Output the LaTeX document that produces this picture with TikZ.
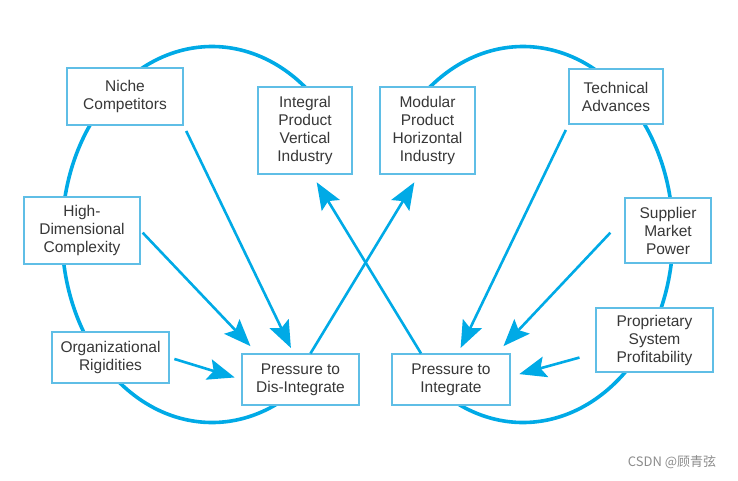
\documentclass[tikz,border=0pt]{standalone}
\usepackage{fontspec}
\setmainfont{Liberation Sans}
\newfontfamily\cjkfont{Noto Sans CJK SC}
\usepackage{tikz}
\usetikzlibrary{arrows.meta, positioning, calc}
\usepackage{xcolor}
\definecolor{loopblue}{RGB}{0, 170, 230}
\definecolor{boxblue}{RGB}{95, 190, 230}
\definecolor{labeltext}{RGB}{55, 55, 55}

\begin{document}
\begin{tikzpicture}[
    x=1pt, y=-1pt,
    factor/.style={draw=boxblue, line width=1.2pt, fill=white, align=center,
                   inner sep=0pt, text=labeltext,
                   font=\fontsize{15.5}{18}\selectfont},
    loop/.style={draw=loopblue, line width=3.6pt},
    arrow/.style={-{Stealth[length=27pt, width=21pt, inset=5pt]},
                  draw=loopblue, fill=loopblue, line width=2.6pt},
  ]
    \useasboundingbox (0,0) rectangle (738,480);

    % Two loops (open on the inside, ends hidden under the boxes)
    \coordinate (leftc) at (212,234.5);
    \coordinate (rightc) at (523,234.5);
    \draw[loop] ($(leftc)+(45:150pt and 188pt)$)
      arc[start angle=45, end angle=300, x radius=150pt, y radius=188pt];
    \draw[loop] ($(rightc)+(135:150pt and 188pt)$)
      arc[start angle=135, end angle=-120, x radius=150pt, y radius=188pt];

    % Left loop: forces toward dis-integration
    \node[factor, minimum width=116pt, minimum height=57pt] (niche) at (125,96.5)
      {Niche\\Competitors};
    \node[factor, minimum width=116pt, minimum height=67pt] (highdim) at (82,230.5)
      {High-\\Dimensional\\Complexity};
    \node[factor, minimum width=117pt, minimum height=51pt] (rigid) at (110.5,357.5)
      {Organizational\\Rigidities};
    \node[factor, minimum width=117pt, minimum height=51pt] (disint) at (300.5,379.5)
      {Pressure to\\Dis-Integrate};

    % Right loop: forces toward integration
    \node[factor, minimum width=94pt, minimum height=55pt] (tech) at (616,96.5)
      {Technical\\Advances};
    \node[factor, minimum width=86pt, minimum height=65pt] (supplier) at (668,230.5)
      {Supplier\\Market\\Power};
    \node[factor, minimum width=117pt, minimum height=64pt] (propr) at (654.5,340)
      {Proprietary\\System\\Profitability};
    \node[factor, minimum width=118pt, minimum height=51pt] (integ) at (451,379.5)
      {Pressure to\\Integrate};

    % Industry structures
    \node[factor, minimum width=94pt, minimum height=87pt] (integral) at (305,130.5)
      {Integral\\Product\\Vertical\\Industry};
    \node[factor, minimum width=95pt, minimum height=87pt] (modular) at (427.5,130.5)
      {Modular\\Product\\Horizontal\\Industry};

    % Arrows into dis-integration
    \draw[arrow, shorten <=6pt, shorten >=6pt] (niche.south east) -- ($(disint.north)+(-7,0)$);
    \draw[arrow, shorten <=3pt, shorten >=10pt] (highdim.east) -- ($(disint.north west)+(16,0)$);
    \draw[arrow, shorten <=5pt, shorten >=7pt] (rigid.east) -- (disint.west);

    % Arrows into integration
    \draw[arrow, shorten <=6pt, shorten >=6pt] (tech.south west) -- ($(integ.north)+(7,0)$);
    \draw[arrow, shorten <=3pt, shorten >=10pt] ($(supplier.west)+(-12,0)$) -- ($(integ.north east)+(-14,0)$);
    \draw[arrow, shorten <=2pt, shorten >=9pt] ($(propr.west)+(-14,17)$) -- ($(integ.east)+(0,-3)$);

    % Crossing arrows to industry structures
    \draw[arrow, shorten >=9pt] ($(disint.north)+(10,0)$) -- ($(modular.south)+(-8.5,0)$);
    \draw[arrow, shorten >=9pt] ($(integ.north)+(-30,0)$) -- ($(integral.south)+(7,0)$);

    % Watermark
    \node[font=\cjkfont\fontsize{13}{15}\selectfont, text=black!45] (mark) at (672,462)
      {CSDN @顾青弦};
  \end{tikzpicture}
\end{document}
